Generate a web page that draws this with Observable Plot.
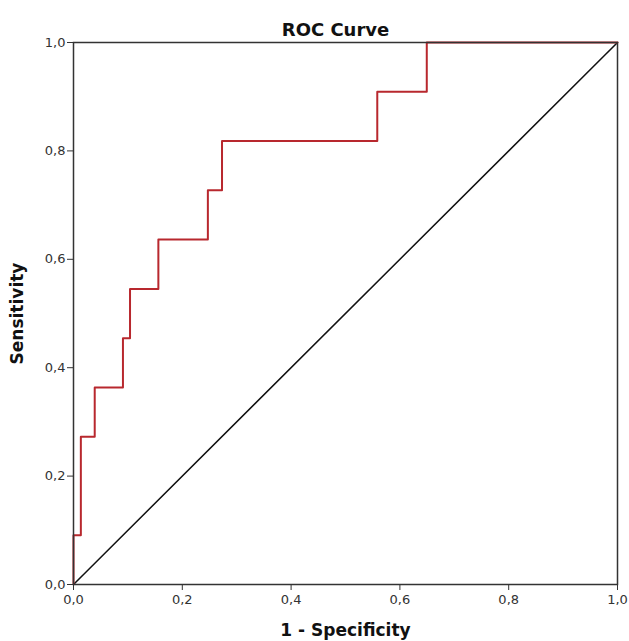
<!DOCTYPE html>
<html>
<head>
<meta charset="utf-8">
<script src="https://cdn.jsdelivr.net/npm/d3@7"></script>
<script src="https://cdn.jsdelivr.net/npm/@observablehq/plot@0.6"></script>
<style>
  body { margin: 0; background: #fff; }
  svg { font-family: "DejaVu Sans", sans-serif; }
</style>
</head>
<body>
<div id="chart"></div>
<script>
// ROC curve thresholds (1 - Specificity, Sensitivity)
const fpr = [0, 0, 0.0135, 0.039, 0.0909, 0.1039, 0.156, 0.247, 0.273, 0.5584, 0.6494, 1];
const tpr = [0, 0.0909, 0.2727, 0.3636, 0.4545, 0.5454, 0.6364, 0.7273, 0.8182, 0.9091, 1, 1];
const refX = [0, 1];
const refY = [0, 1];
const ticks = [0, 0.2, 0.4, 0.6, 0.8, 1.0];
const title = "ROC Curve";
const xLabel = "1 - Specificity";
const yLabel = "Sensitivity";

const roc = fpr.map((x, i) => ({x, y: tpr[i]}));
const diag = refX.map((x, i) => ({x, y: refY[i]}));
const fmt = d => d.toFixed(1).replace(".", ",");

const chart = Plot.plot({
  width: 629,
  height: 641,
  marginLeft: 73,
  marginRight: 12,
  marginTop: 42,
  marginBottom: 57,
  style: {fontFamily: "DejaVu Sans, sans-serif", background: "#fff"},
  x: {domain: [0, 1]},
  y: {domain: [0, 1]},
  marks: [
    Plot.line(diag, {x: "x", y: "y", stroke: "#111", strokeWidth: 1.5}),
    Plot.line(roc, {x: "x", y: "y", curve: "step-after", stroke: "#b8282e", strokeWidth: 2}),
    Plot.frame({stroke: "#333", strokeWidth: 1.5}),
    Plot.axisX({ticks, tickFormat: fmt, tickSize: 6, tickPadding: 4, fontSize: 13, stroke: "#333", color: "#333",
      label: xLabel, labelAnchor: "center", labelArrow: "none", labelOffset: 51}),
    Plot.axisY({ticks, tickFormat: fmt, tickSize: 6, tickPadding: 2, fontSize: 13, stroke: "#333", color: "#333",
      label: yLabel, labelAnchor: "center", labelArrow: "none", labelOffset: 63}),
    Plot.text([title], {frameAnchor: "top", dy: -19, dx: -10, fontSize: 18, fontWeight: "bold", fill: "#111", text: d => d})
  ]
});
document.getElementById("chart").appendChild(chart);
// bold axis labels
chart.querySelectorAll("g[aria-label='x-axis label'] text, g[aria-label='y-axis label'] text").forEach(t => {
  t.setAttribute("font-weight", "bold");
  t.setAttribute("font-size", "17");
  t.setAttribute("fill", "#111");
});
</script>
</body>
</html>
